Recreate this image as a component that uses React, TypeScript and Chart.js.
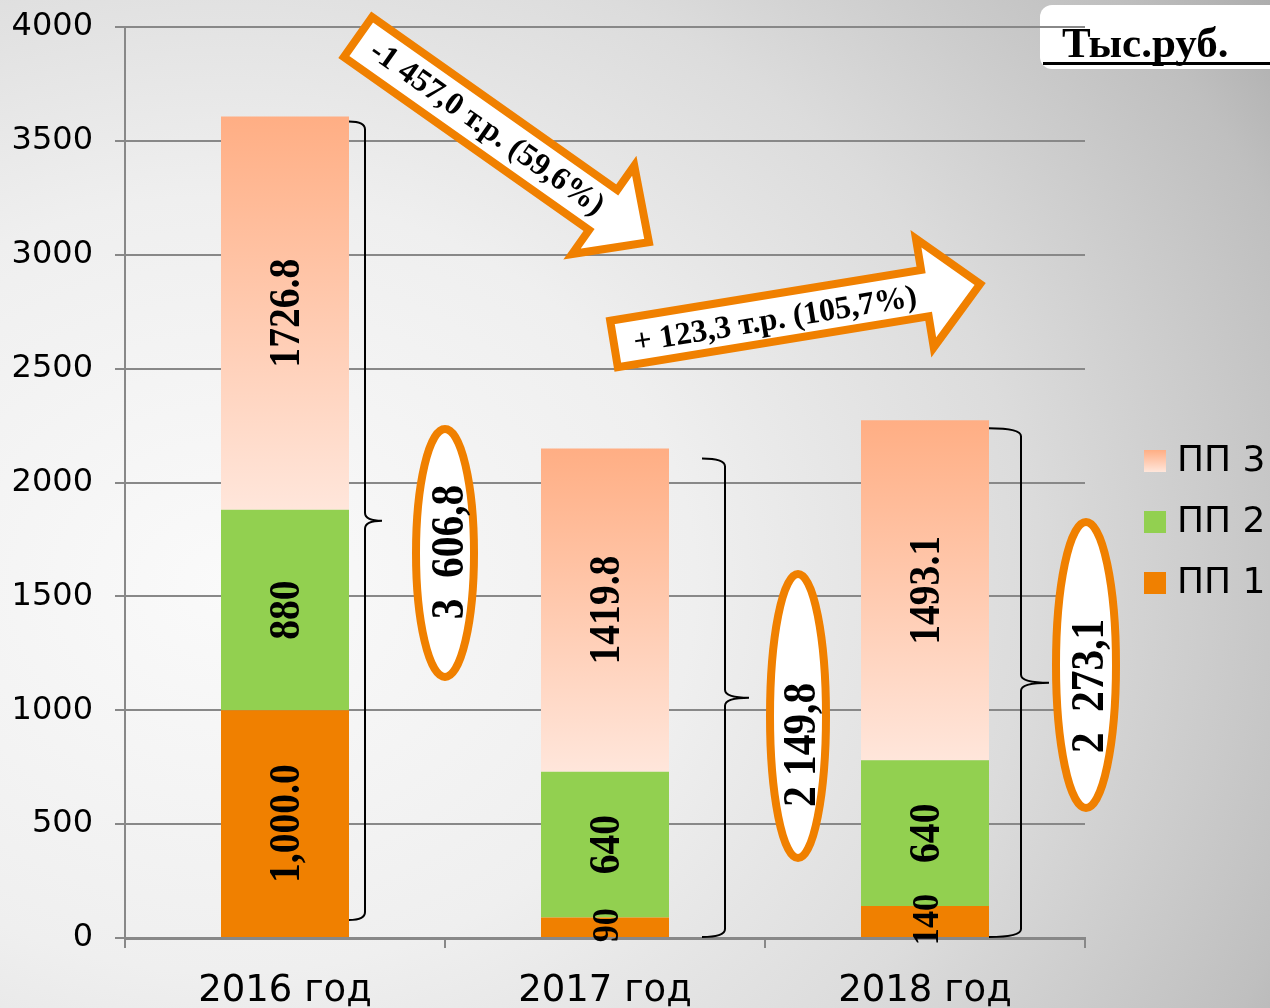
import React, { useEffect, useRef } from "react";
import { Chart, registerables } from "chart.js";

Chart.register(...registerables);

// ---------- data ----------
const categories = ["2016 год", "2017 год", "2018 год"];
const seriesNames = ["ПП 1", "ПП 2", "ПП 3"];
const pp1 = [1000, 90, 140];
const pp2 = [880, 640, 640];
const pp3 = [1726.8, 1419.8, 1493.1];
const pp1Labels = ["1,000.0", "90", "140"];
const pp2Labels = ["880", "640", "640"];
const pp3Labels = ["1726.8", "1419.8", "1493.1"];
const totalLabels = ["3  606,8", "2 149,8", "2  273,1"];
const changeLabels = ["-1 457,0 т.р. (59,6%)", "+ 123,3 т.р. (105,7%)"];
const unitLabel = "Тыс.руб.";
const yMin = 0;
const yMax = 4000;
const yStep = 500;

// ---------- styles ----------
const ORANGE = "#F08000";
const GREEN = "#92D050";
const PEACH_TOP = "#FFAE84";
const PEACH_BOTTOM = "#FFE6DB";
const GRID = "#888888";
const SERIF = "'Liberation Serif', 'Times New Roman', serif";
const SANS = "'DejaVu Sans', Verdana, sans-serif";

// brace geometry relative to bar right edge / totals (pixels)
const braceStyle = [
  { dx0: 0, dv: 16, dt: 33, topOff: 5, botOff: -18 },
  { dx0: 33, dv: 56, dt: 80, topOff: 10, botOff: -1 },
  { dx0: 0, dv: 32, dt: 60, topOff: 8, botOff: -1 },
];
// ellipse callouts (pixels)
const ellipseStyle = [
  { cx: 445, cy: 553, rx: 29, ry: 124, tx: 451, ty: 552 },
  { cx: 798, cy: 716, rx: 28, ry: 142, tx: 803, ty: 745 },
  { cx: 1086, cy: 665, rx: 30, ry: 143, tx: 1091, ty: 686 },
];
// arrows (pixels)
const arrowStyle = [
  { x: 358, y: 37, angle: 35.2, len: 356, w: 49, hw: 108, hl: 56, textAt: 158, textOff: 1 },
  { x: 614, y: 344, angle: -9.3, len: 371, w: 47, hw: 110, hl: 56, textAt: 163, textOff: 3 },
];

function peachGradient(ctx: CanvasRenderingContext2D, top: number, bottom: number) {
  const g = ctx.createLinearGradient(0, top, 0, bottom);
  g.addColorStop(0, PEACH_TOP);
  g.addColorStop(1, PEACH_BOTTOM);
  return g;
}

function rotatedText(
  ctx: CanvasRenderingContext2D,
  text: string,
  x: number,
  y: number,
  angle: number,
  font: string,
  sx = 1
) {
  ctx.save();
  ctx.translate(x, y);
  ctx.rotate(angle);
  ctx.scale(sx, 1);
  ctx.font = font;
  ctx.fillStyle = "#000";
  ctx.textAlign = "center";
  ctx.textBaseline = "middle";
  ctx.fillText(text, 0, 0);
  ctx.restore();
}

const decorPlugin = {
  id: "decor",
  beforeDraw(chart: any) {
    const ctx: CanvasRenderingContext2D = chart.ctx;
    // unit box
    ctx.save();
    ctx.fillStyle = "#ffffff";
    ctx.beginPath();
    (ctx as any).roundRect(1040, 5, 260, 64, 12);
    ctx.fill();
    ctx.font = `bold 43px ${SERIF}`;
    ctx.fillStyle = "#000";
    ctx.textBaseline = "alphabetic";
    ctx.textAlign = "left";
    ctx.fillText(unitLabel, 1062, 57);
    ctx.fillRect(1043, 62, 230, 3);
    ctx.restore();
  },
  afterDatasetsDraw(chart: any) {
    const ctx: CanvasRenderingContext2D = chart.ctx;
    const labelSets = [pp1Labels, pp2Labels, pp3Labels];
    chart.data.datasets.forEach((_ds: any, di: number) => {
      const meta = chart.getDatasetMeta(di);
      meta.data.forEach((el: any, i: number) => {
        const h = Math.abs(el.base - el.y);
        const small = h < 50;
        const size = small ? 38 : 44;
        const cy = (el.y + el.base) / 2 + (small ? -2 : 0);
        rotatedText(ctx, labelSets[di][i], el.x + 3, cy, -Math.PI / 2, `bold ${size}px ${SERIF}`, 0.9);
      });
    });

    // braces
    const y = chart.scales.y;
    const meta0 = chart.getDatasetMeta(0);
    ctx.save();
    ctx.strokeStyle = "#000";
    ctx.lineWidth = 2;
    categories.forEach((_c, i) => {
      const el = meta0.data[i];
      const b = braceStyle[i];
      const right = el.x + el.width / 2;
      const x0 = right + b.dx0;
      const xv = right + b.dv;
      const xt = right + b.dt;
      const yTop = y.getPixelForValue(pp1[i] + pp2[i] + pp3[i]) + b.topOff;
      const yBot = y.getPixelForValue(0) + b.botOff;
      const yMid = (yTop + yBot) / 2;
      const r = 8;
      ctx.beginPath();
      ctx.moveTo(x0, yTop);
      ctx.quadraticCurveTo(xv, yTop, xv, yTop + r);
      ctx.lineTo(xv, yMid - r);
      ctx.quadraticCurveTo(xv, yMid, xt, yMid);
      ctx.moveTo(xv, yMid + r);
      ctx.quadraticCurveTo(xv, yMid, xt, yMid);
      ctx.moveTo(xv, yMid + r);
      ctx.lineTo(xv, yBot - r);
      ctx.quadraticCurveTo(xv, yBot, x0, yBot);
      ctx.stroke();
    });
    ctx.restore();
  },
  afterDraw(chart: any) {
    const ctx: CanvasRenderingContext2D = chart.ctx;
    // ellipses
    ellipseStyle.forEach((e, i) => {
      ctx.save();
      ctx.beginPath();
      ctx.ellipse(e.cx, e.cy, e.rx, e.ry, 0, 0, Math.PI * 2);
      ctx.fillStyle = "#ffffff";
      ctx.fill();
      ctx.lineWidth = 8;
      ctx.strokeStyle = ORANGE;
      ctx.stroke();
      ctx.restore();
      rotatedText(ctx, totalLabels[i], e.tx, e.ty, -Math.PI / 2, `bold 46px ${SERIF}`, 0.9);
    });
    // arrows
    arrowStyle.forEach((a, i) => {
      ctx.save();
      ctx.translate(a.x, a.y);
      ctx.rotate((a.angle * Math.PI) / 180);
      const s = a.len - a.hl;
      ctx.beginPath();
      ctx.moveTo(0, -a.w / 2);
      ctx.lineTo(s, -a.w / 2);
      ctx.lineTo(s, -a.hw / 2);
      ctx.lineTo(a.len, 0);
      ctx.lineTo(s, a.hw / 2);
      ctx.lineTo(s, a.w / 2);
      ctx.lineTo(0, a.w / 2);
      ctx.closePath();
      ctx.fillStyle = "#ffffff";
      ctx.fill();
      ctx.lineWidth = 8;
      ctx.lineJoin = "miter";
      ctx.strokeStyle = ORANGE;
      ctx.stroke();
      ctx.font = `bold 32px ${SERIF}`;
      ctx.fillStyle = "#000";
      ctx.textAlign = "center";
      ctx.textBaseline = "middle";
      ctx.fillText(changeLabels[i], a.textAt, a.textOff);
      ctx.restore();
    });
    // legend (reversed order)
    const order = [2, 1, 0];
    const rowsY = [461, 522, 583];
    order.forEach((di, r) => {
      const cy = rowsY[r];
      const ds = chart.data.datasets[di];
      ctx.save();
      if (di === 2) ctx.fillStyle = peachGradient(ctx, cy - 11, cy + 11);
      else ctx.fillStyle = ds.legendColor;
      ctx.fillRect(1144, cy - 11, 22, 22);
      ctx.font = `36px ${SANS}`;
      ctx.fillStyle = "#000";
      ctx.textAlign = "left";
      ctx.textBaseline = "middle";
      ctx.fillText(ds.label, 1177, cy + 1);
      ctx.restore();
    });
  },
};

export default function App() {
  const ref = useRef<HTMLCanvasElement | null>(null);
  useEffect(() => {
    if (!ref.current) return;
    const chart = new Chart(ref.current, {
      type: "bar",
      data: {
        labels: categories,
        datasets: [
          { label: seriesNames[0], data: pp1, backgroundColor: ORANGE, legendColor: ORANGE } as any,
          { label: seriesNames[1], data: pp2, backgroundColor: GREEN, legendColor: GREEN } as any,
          {
            label: seriesNames[2],
            data: pp3,
            legendColor: PEACH_TOP,
            backgroundColor: (c: any) => {
              const ch = c.chart;
              const ys = ch.scales && ch.scales.y;
              if (!ch.chartArea || !ys || c.type !== "data") return PEACH_TOP;
              const i = c.dataIndex;
              const top = ys.getPixelForValue(pp1[i] + pp2[i] + pp3[i]);
              const bot = ys.getPixelForValue(pp1[i] + pp2[i]);
              return peachGradient(ch.ctx, top, bot);
            },
          } as any,
        ],
      },
      options: {
        animation: false,
        responsive: false,
        devicePixelRatio: 1,
        layout: { padding: { top: 27, right: 185, bottom: 0, left: 0 } },
        datasets: { bar: { barPercentage: 0.4, categoryPercentage: 1 } },
        plugins: { legend: { display: false }, tooltip: { enabled: false } },
        scales: {
          x: {
            stacked: true,
            grid: { display: true, drawOnChartArea: false, tickLength: 10, color: GRID, lineWidth: 2, offset: true },
            border: { color: GRID, width: 3 },
            ticks: { color: "#000", font: { family: SANS, size: 37 }, padding: 21 },
            afterFit: (s: any) => {
              s.height = 70;
              s.paddingLeft = 0;
              s.paddingRight = 0;
            },
          },
          y: {
            stacked: true,
            min: yMin,
            max: yMax,
            ticks: {
              stepSize: yStep,
              color: "#000",
              font: { family: SANS, size: 32 },
              padding: 22,
              callback: (v: any) => String(v),
            },
            grid: { color: GRID, lineWidth: 2, tickLength: 10 },
            border: { color: GRID, width: 2 },
            afterFit: (s: any) => {
              s.width = 125;
              s.paddingTop = 0;
              s.paddingBottom = 0;
            },
          },
        },
      },
      plugins: [decorPlugin],
    });
    return () => chart.destroy();
  }, []);
  return (
    <div
      style={{
        position: "absolute",
        left: 0,
        top: 0,
        width: 1270,
        height: 1008,
        overflow: "hidden",
        background:
          "radial-gradient(ellipse 105% 110% at 18% 58%, #fafafa 0%, #efefef 35%, #dcdcdc 60%, #bfbfbf 85%, #a2a2a2 100%)",
      }}
    >
      <canvas ref={ref} width={1270} height={1008} style={{ display: "block" }} />
    </div>
  );
}
